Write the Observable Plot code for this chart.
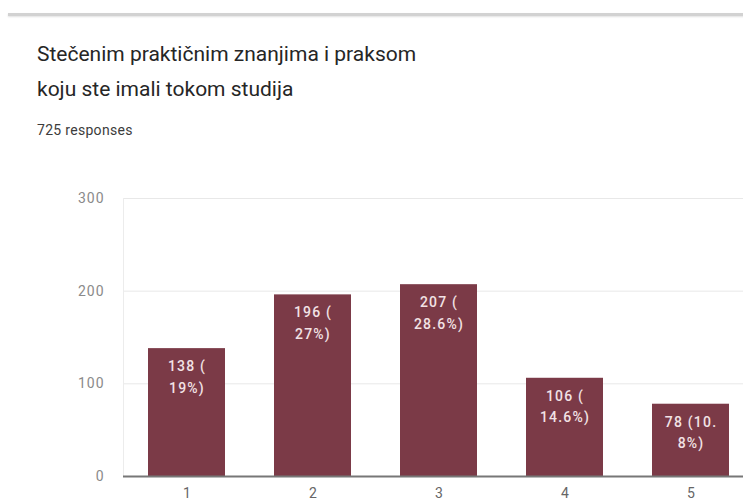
<!DOCTYPE html>
<html>
<head>
<meta charset="utf-8">
<script src="https://cdn.jsdelivr.net/npm/d3@7"></script>
<script src="https://cdn.jsdelivr.net/npm/@observablehq/plot@0.6"></script>
<style>
  html, body { margin: 0; padding: 0; background: #fff; width: 743px; height: 503px; overflow: hidden; position: relative; font-family: Roboto, "Noto Sans", sans-serif; }
  #topline { position: absolute; left: 8px; top: 13px; width: 760px; height: 3px; background: #d2d2d2; box-shadow: 0 1px 2px rgba(0,0,0,0.12); }
  #title { position: absolute; left: 37px; top: 37px; font-size: 21px; line-height: 35px; color: #262626; }
  #sub { position: absolute; left: 37px; top: 122px; font-size: 14px; color: #3c3c3c; letter-spacing: 0.3px; }
  #chart { position: absolute; left: 0; top: 180px; width: 760px; }
  #chart svg { max-width: none !important; }
  #chart g[aria-label="text"] text { letter-spacing: 1.2px; }
  #chart g[aria-label="y-axis tick label"] text { letter-spacing: 1px; }
</style>
</head>
<body>
<div id="topline"></div>
<div id="title">Stečenim praktičnim znanjima i praksom<br>koju ste imali tokom studija</div>
<div id="sub">725 responses</div>
<div id="chart"></div>
<script>
const categories = ["1", "2", "3", "4", "5"];
const counts = [138, 196, 207, 106, 78];
const barLabels = ["138 (\n19%)", "196 (\n27%)", "207 (\n28.6%)", "106 (\n14.6%)", "78 (10.\n8%)"];
const yTicks = [0, 100, 200, 300];

const data = categories.map((c, i) => ({cat: c, count: counts[i], label: barLabels[i]}));

const chart = Plot.plot({
  width: 760,
  height: 323,
  marginLeft: 123,
  marginRight: 7,
  marginTop: 18,
  marginBottom: 27,
  style: {fontFamily: "Roboto, 'Noto Sans', sans-serif", background: "transparent", maxWidth: "none"},
  x: {domain: categories, paddingInner: 0.39, paddingOuter: 0.195, axis: null, label: null},
  y: {domain: [0, 300], axis: null, label: null},
  marks: [
    Plot.gridY(yTicks, {stroke: "#e8e8e8", strokeOpacity: 1, strokeWidth: 1}),
    Plot.frame({anchor: "left", stroke: "#ececec"}),
    Plot.barY(data, {x: "cat", y: "count", fill: "#7b3a47"}),
    Plot.ruleY([0], {stroke: "#777", strokeWidth: 2}),
    Plot.axisY(yTicks, {tickSize: 0, tickPadding: 19, fontSize: 14, color: "#8a8a8a", label: null}),
    Plot.axisX({tickSize: 0, tickPadding: 12, fontSize: 14, color: "#666", label: null}),
    Plot.text(data, {x: "cat", y: "count", text: "label", fill: "#f2e2e5", fontSize: 14, fontWeight: 500, lineHeight: 1.55, lineAnchor: "top", dy: 7})
  ]
});
document.getElementById("chart").appendChild(chart);
</script>
</body>
</html>
